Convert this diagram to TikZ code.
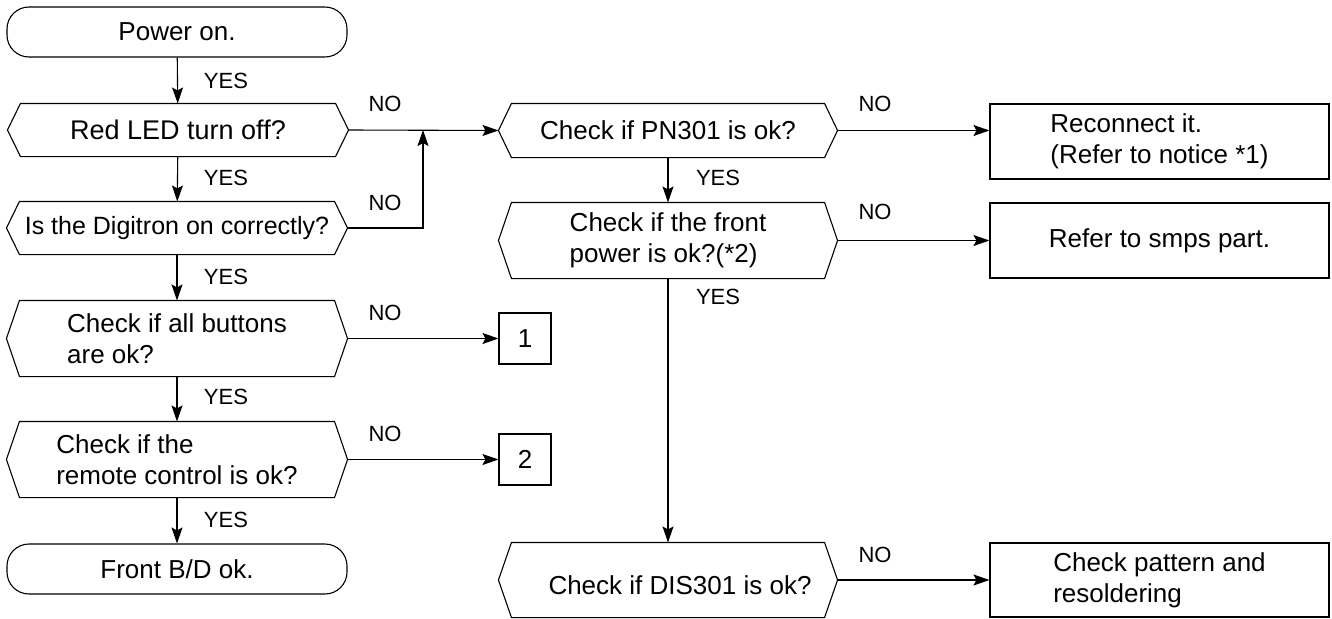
\documentclass[tikz,border=0pt]{standalone}
\usepackage{fontspec}
\setmainfont{Liberation Sans}
\usetikzlibrary{arrows.meta,calc}
\begin{document}
\begin{tikzpicture}[x=1pt,y=-1pt, line width=1.1pt,
  txt/.style={font=\fontsize{26}{31}\selectfont, align=left, inner sep=0pt},
  term/.style={txt, draw, rounded corners=22pt, minimum width=340pt, minimum height=50pt},
  hexa/.style={txt, minimum width=340pt},
  proc/.style={txt, draw, minimum width=339pt},
  numbox/.style={txt, draw, minimum width=52pt, minimum height=51pt},
  lbl/.style={font=\fontsize{22}{26}\selectfont, inner sep=0pt},
  arr/.style={-{Stealth[length=16pt,width=11pt,inset=3pt]}},
]
\useasboundingbox (0,0) rectangle (1332,618);

% left column
\node[term] (pow) at (177,32) {Power on.};
\node[hexa, minimum height=52pt, font=\fontsize{27}{31}\selectfont] (red) at (178,130) {Red LED turn off?};
\node[hexa, minimum height=52pt, font=\fontsize{25}{31}\selectfont] (dig) at (177,228) {Is the Digitron on correctly?};
\node[hexa, minimum height=75pt] (btn) at (177,338.5) {Check if all buttons\\are ok?};
\node[hexa, minimum height=75pt] (rem) at (177,459.5) {Check if the\\remote control is ok?};
\node[term] (fro) at (177,569) {Front B/D ok.};

% middle column
\node[hexa, minimum width=338pt, minimum height=53pt] (pn) at (668,130.5) {Check if PN301 is ok?};
\node[hexa, minimum width=338pt, minimum height=75pt] (fp) at (668,240.5) {Check if the front\\power is ok?(*2)};
\node[hexa, minimum width=338pt, minimum height=74pt] (dis) at (668,580) {\rule{0pt}{30pt}\hspace{24pt}Check if DIS301 is ok?};
\node[numbox] (b1) at (525,338.5) {1};
\node[numbox] (b2) at (525,459.5) {2};

% right column
\node[proc, minimum height=75pt] (rec) at (1159.5,141.5) {Reconnect it.\\(Refer to notice *1)};
\node[proc, minimum height=75pt] (smp) at (1159.5,240.5) {Refer to smps part.};
\node[proc, minimum height=74pt] (pat) at (1159.5,580) {Check pattern and\\resoldering};

% hexagon outlines
\foreach \n in {red,dig,btn,rem,pn,fp,dis}
  \draw ([xshift=13pt]\n.north west) -- ([xshift=-13pt]\n.north east) -- (\n.east)
        -- ([xshift=-13pt]\n.south east) -- ([xshift=13pt]\n.south west) -- (\n.west) -- cycle;

% connectors
\coordinate (j) at (423,130);
\draw[arr] (pow) -- (red);
\draw[arr] (red) -- (dig);
\draw[arr] (dig) -- (btn);
\draw[arr] (btn) -- (rem);
\draw[arr] (rem) -- (fro);
\draw[arr] (red.east) -- (pn.west);
\draw[arr] (dig.east) -| (j);
\draw[arr] (btn.east) -- (b1.west);
\draw[arr] (rem.east) -- (b2.west);
\draw[arr] (pn.south) -- (fp.north);
\draw[arr] (fp.south) -- (dis.north);
\draw[arr] (pn.east) -- (pn.east -| rec.west);
\draw[arr] (fp.east) -- (smp.west);
\draw[arr] (dis.east) -- (pat.west);

% labels
\node[lbl] (y1) at (226,81) {YES};
\node[lbl] (y2) at (226,178) {YES};
\node[lbl] (y3) at (226,277) {YES};
\node[lbl] (y4) at (226,397) {YES};
\node[lbl] (y5) at (226,520) {YES};
\node[lbl] (y6) at (718,178) {YES};
\node[lbl] (y7) at (718,297) {YES};
\node[lbl] (n1) at (385,104) {NO};
\node[lbl] (n2) at (385,203) {NO};
\node[lbl] (n3) at (385,313) {NO};
\node[lbl] (n4) at (385,434) {NO};
\node[lbl] (n5) at (875,104) {NO};
\node[lbl] (n6) at (875,212) {NO};
\node[lbl] (n7) at (875,555) {NO};
\end{tikzpicture}
\end{document}
